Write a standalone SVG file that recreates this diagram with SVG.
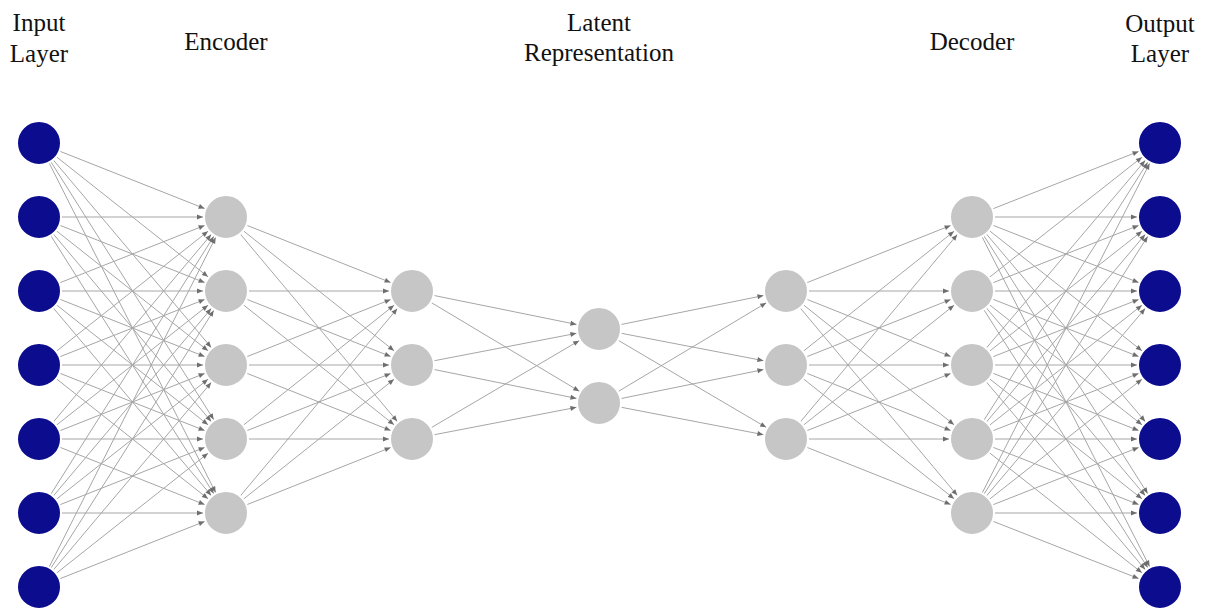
<svg xmlns="http://www.w3.org/2000/svg" width="1207" height="611" viewBox="0 0 1207 611">
<defs>
<marker id="arr" viewBox="0 0 30 6" refX="30" refY="3" markerWidth="30" markerHeight="6" markerUnits="userSpaceOnUse" orient="auto">
<path d="M1,0.5 L7,3 L1,5.5 z" fill="#6e6e6e"/>
</marker>
<style>
.e line{stroke:#a6a6a6;stroke-width:1;marker-end:url(#arr)}
.io{fill:#0c0c8e;stroke:#fff;stroke-width:2}
.h{fill:#c6c6c6;stroke:#fff;stroke-width:2}
.t{font-family:"Liberation Serif",serif;font-size:25px;fill:#111;text-anchor:middle}
</style>
</defs>
<rect width="1207" height="611" fill="#fff"/>
<g id="labels">
<text class="t" x="39" y="31">Input</text>
<text class="t" x="39" y="62">Layer</text>
<text class="t" x="226" y="50">Encoder</text>
<text class="t" x="599" y="31">Latent</text>
<text class="t" x="599" y="61">Representation</text>
<text class="t" x="972" y="50">Decoder</text>
<text class="t" x="1160" y="32">Output</text>
<text class="t" x="1160" y="62">Layer</text>
</g>
<g id="connectors" class="e">
<line x1="39" y1="143" x2="226" y2="217"/><line x1="39" y1="143" x2="226" y2="291"/><line x1="39" y1="143" x2="226" y2="365"/><line x1="39" y1="143" x2="226" y2="439"/><line x1="39" y1="143" x2="226" y2="513"/>
<line x1="39" y1="217" x2="226" y2="217"/><line x1="39" y1="217" x2="226" y2="291"/><line x1="39" y1="217" x2="226" y2="365"/><line x1="39" y1="217" x2="226" y2="439"/><line x1="39" y1="217" x2="226" y2="513"/>
<line x1="39" y1="291" x2="226" y2="217"/><line x1="39" y1="291" x2="226" y2="291"/><line x1="39" y1="291" x2="226" y2="365"/><line x1="39" y1="291" x2="226" y2="439"/><line x1="39" y1="291" x2="226" y2="513"/>
<line x1="39" y1="365" x2="226" y2="217"/><line x1="39" y1="365" x2="226" y2="291"/><line x1="39" y1="365" x2="226" y2="365"/><line x1="39" y1="365" x2="226" y2="439"/><line x1="39" y1="365" x2="226" y2="513"/>
<line x1="39" y1="439" x2="226" y2="217"/><line x1="39" y1="439" x2="226" y2="291"/><line x1="39" y1="439" x2="226" y2="365"/><line x1="39" y1="439" x2="226" y2="439"/><line x1="39" y1="439" x2="226" y2="513"/>
<line x1="39" y1="513" x2="226" y2="217"/><line x1="39" y1="513" x2="226" y2="291"/><line x1="39" y1="513" x2="226" y2="365"/><line x1="39" y1="513" x2="226" y2="439"/><line x1="39" y1="513" x2="226" y2="513"/>
<line x1="39" y1="587" x2="226" y2="217"/><line x1="39" y1="587" x2="226" y2="291"/><line x1="39" y1="587" x2="226" y2="365"/><line x1="39" y1="587" x2="226" y2="439"/><line x1="39" y1="587" x2="226" y2="513"/>
<line x1="226" y1="217" x2="412" y2="291"/><line x1="226" y1="217" x2="412" y2="365"/><line x1="226" y1="217" x2="412" y2="439"/>
<line x1="226" y1="291" x2="412" y2="291"/><line x1="226" y1="291" x2="412" y2="365"/><line x1="226" y1="291" x2="412" y2="439"/>
<line x1="226" y1="365" x2="412" y2="291"/><line x1="226" y1="365" x2="412" y2="365"/><line x1="226" y1="365" x2="412" y2="439"/>
<line x1="226" y1="439" x2="412" y2="291"/><line x1="226" y1="439" x2="412" y2="365"/><line x1="226" y1="439" x2="412" y2="439"/>
<line x1="226" y1="513" x2="412" y2="291"/><line x1="226" y1="513" x2="412" y2="365"/><line x1="226" y1="513" x2="412" y2="439"/>
<line x1="412" y1="291" x2="599" y2="329"/><line x1="412" y1="291" x2="599" y2="403"/>
<line x1="412" y1="365" x2="599" y2="329"/><line x1="412" y1="365" x2="599" y2="403"/>
<line x1="412" y1="439" x2="599" y2="329"/><line x1="412" y1="439" x2="599" y2="403"/>
<line x1="599" y1="329" x2="786" y2="291"/><line x1="599" y1="329" x2="786" y2="365"/><line x1="599" y1="329" x2="786" y2="439"/>
<line x1="599" y1="403" x2="786" y2="291"/><line x1="599" y1="403" x2="786" y2="365"/><line x1="599" y1="403" x2="786" y2="439"/>
<line x1="786" y1="291" x2="972" y2="217"/><line x1="786" y1="291" x2="972" y2="291"/><line x1="786" y1="291" x2="972" y2="365"/><line x1="786" y1="291" x2="972" y2="439"/><line x1="786" y1="291" x2="972" y2="513"/>
<line x1="786" y1="365" x2="972" y2="217"/><line x1="786" y1="365" x2="972" y2="291"/><line x1="786" y1="365" x2="972" y2="365"/><line x1="786" y1="365" x2="972" y2="439"/><line x1="786" y1="365" x2="972" y2="513"/>
<line x1="786" y1="439" x2="972" y2="217"/><line x1="786" y1="439" x2="972" y2="291"/><line x1="786" y1="439" x2="972" y2="365"/><line x1="786" y1="439" x2="972" y2="439"/><line x1="786" y1="439" x2="972" y2="513"/>
<line x1="972" y1="217" x2="1160" y2="143"/><line x1="972" y1="217" x2="1160" y2="217"/><line x1="972" y1="217" x2="1160" y2="291"/><line x1="972" y1="217" x2="1160" y2="365"/><line x1="972" y1="217" x2="1160" y2="439"/><line x1="972" y1="217" x2="1160" y2="513"/><line x1="972" y1="217" x2="1160" y2="587"/>
<line x1="972" y1="291" x2="1160" y2="143"/><line x1="972" y1="291" x2="1160" y2="217"/><line x1="972" y1="291" x2="1160" y2="291"/><line x1="972" y1="291" x2="1160" y2="365"/><line x1="972" y1="291" x2="1160" y2="439"/><line x1="972" y1="291" x2="1160" y2="513"/><line x1="972" y1="291" x2="1160" y2="587"/>
<line x1="972" y1="365" x2="1160" y2="143"/><line x1="972" y1="365" x2="1160" y2="217"/><line x1="972" y1="365" x2="1160" y2="291"/><line x1="972" y1="365" x2="1160" y2="365"/><line x1="972" y1="365" x2="1160" y2="439"/><line x1="972" y1="365" x2="1160" y2="513"/><line x1="972" y1="365" x2="1160" y2="587"/>
<line x1="972" y1="439" x2="1160" y2="143"/><line x1="972" y1="439" x2="1160" y2="217"/><line x1="972" y1="439" x2="1160" y2="291"/><line x1="972" y1="439" x2="1160" y2="365"/><line x1="972" y1="439" x2="1160" y2="439"/><line x1="972" y1="439" x2="1160" y2="513"/><line x1="972" y1="439" x2="1160" y2="587"/>
<line x1="972" y1="513" x2="1160" y2="143"/><line x1="972" y1="513" x2="1160" y2="217"/><line x1="972" y1="513" x2="1160" y2="291"/><line x1="972" y1="513" x2="1160" y2="365"/><line x1="972" y1="513" x2="1160" y2="439"/><line x1="972" y1="513" x2="1160" y2="513"/><line x1="972" y1="513" x2="1160" y2="587"/>
</g>
<g id="input-layer">
<g id="in1"><circle class="io" cx="39" cy="143" r="22"/></g>
<g id="in2"><circle class="io" cx="39" cy="217" r="22"/></g>
<g id="in3"><circle class="io" cx="39" cy="291" r="22"/></g>
<g id="in4"><circle class="io" cx="39" cy="365" r="22"/></g>
<g id="in5"><circle class="io" cx="39" cy="439" r="22"/></g>
<g id="in6"><circle class="io" cx="39" cy="513" r="22"/></g>
<g id="in7"><circle class="io" cx="39" cy="587" r="22"/></g>
</g>
<g id="encoder">
<g id="enc1a"><circle class="h" cx="226" cy="217" r="22"/></g>
<g id="enc1b"><circle class="h" cx="226" cy="291" r="22"/></g>
<g id="enc1c"><circle class="h" cx="226" cy="365" r="22"/></g>
<g id="enc1d"><circle class="h" cx="226" cy="439" r="22"/></g>
<g id="enc1e"><circle class="h" cx="226" cy="513" r="22"/></g>
<g id="enc2a"><circle class="h" cx="412" cy="291" r="22"/></g>
<g id="enc2b"><circle class="h" cx="412" cy="365" r="22"/></g>
<g id="enc2c"><circle class="h" cx="412" cy="439" r="22"/></g>
</g>
<g id="latent">
<g id="lat1"><circle class="h" cx="599" cy="329" r="22"/></g>
<g id="lat2"><circle class="h" cx="599" cy="403" r="22"/></g>
</g>
<g id="decoder">
<g id="dec1a"><circle class="h" cx="786" cy="291" r="22"/></g>
<g id="dec1b"><circle class="h" cx="786" cy="365" r="22"/></g>
<g id="dec1c"><circle class="h" cx="786" cy="439" r="22"/></g>
<g id="dec2a"><circle class="h" cx="972" cy="217" r="22"/></g>
<g id="dec2b"><circle class="h" cx="972" cy="291" r="22"/></g>
<g id="dec2c"><circle class="h" cx="972" cy="365" r="22"/></g>
<g id="dec2d"><circle class="h" cx="972" cy="439" r="22"/></g>
<g id="dec2e"><circle class="h" cx="972" cy="513" r="22"/></g>
</g>
<g id="output-layer">
<g id="out1"><circle class="io" cx="1160" cy="143" r="22"/></g>
<g id="out2"><circle class="io" cx="1160" cy="217" r="22"/></g>
<g id="out3"><circle class="io" cx="1160" cy="291" r="22"/></g>
<g id="out4"><circle class="io" cx="1160" cy="365" r="22"/></g>
<g id="out5"><circle class="io" cx="1160" cy="439" r="22"/></g>
<g id="out6"><circle class="io" cx="1160" cy="513" r="22"/></g>
<g id="out7"><circle class="io" cx="1160" cy="587" r="22"/></g>
</g>
</svg>
